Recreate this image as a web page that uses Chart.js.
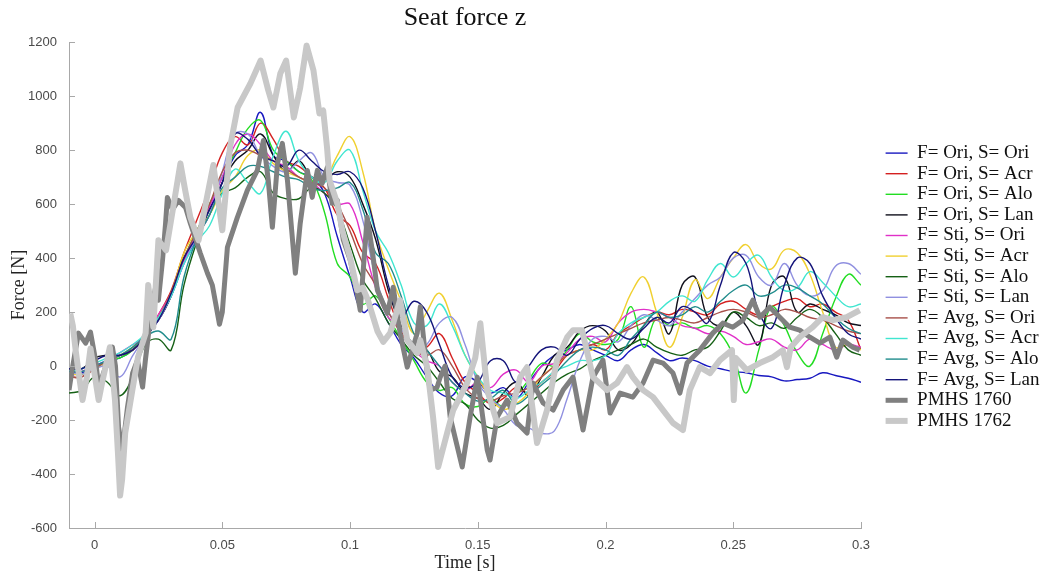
<!DOCTYPE html>
<html>
<head>
<meta charset="utf-8">
<script src="https://cdn.jsdelivr.net/npm/chart.js@4.4.1/dist/chart.umd.min.js"></script>
<style>
  html, body { margin: 0; padding: 0; background: #fff; }
  #wrap { width: 1043px; height: 574px; }
</style>
</head>
<body>
<div id="wrap"><canvas id="chart-seat" width="1043" height="574"></canvas></div>
<script>
// time grid [s] shared by the 12 simulated curves
const timeGrid = [-0.01, -0.005, 0, 0.005, 0.01, 0.015, 0.02, 0.025, 0.03, 0.035,
  0.04, 0.045, 0.05, 0.055, 0.06, 0.065, 0.07, 0.075, 0.08, 0.085,
  0.09, 0.095, 0.1, 0.105, 0.11, 0.115, 0.12, 0.125, 0.13, 0.135,
  0.14, 0.145, 0.15, 0.155, 0.16, 0.165, 0.17, 0.175, 0.18, 0.185,
  0.19, 0.195, 0.2, 0.205, 0.21, 0.215, 0.22, 0.225, 0.23, 0.235,
  0.24, 0.245, 0.25, 0.255, 0.26, 0.265, 0.27, 0.275, 0.28, 0.285,
  0.29, 0.295, 0.3]

// seat force z [N]
const oriOri = [-20, -25, 0, 20, 30, 60, 110, 170, 260, 380,
  470, 580, 680, 780, 820, 940, 780, 760, 720, 700,
  640, 480, 330, 200, 230, 160, 80, 30, -40, -100,
  -110, -40, -60, -100, -80, -120, -60, 0, 40, 60,
  80, 60, 40, 20, 60, 80, 50, 20, 30, 20,
  0, -10, -20, -25, -35, -40, -55, -50, -45, -25,
  -35, -45, -60]
const oriAcr = [-40, -40, -10, 20, 40, 60, 110, 190, 280, 420,
  540, 660, 790, 850, 820, 900, 840, 760, 740, 700,
  660, 560, 520, 420, 380, 250, 130, 60, 70, 120,
  30, -60, -100, -140, -120, -80, -100, -60, -20, 40,
  60, 80, 60, 120, 150, 180, 200, 190, 210, 200,
  190, 230, 240, 210, 190, 220, 240, 250, 220, 230,
  200, 170, 60]
const oriAlo = [-30, -30, -10, 20, 30, 60, 120, 180, 270, 400,
  500, 600, 700, 790, 880, 910, 800, 760, 720, 690,
  570, 380, 330, 230, 260, 180, 100, 20, -60, -90,
  -80, -140, -150, -120, -150, -110, -50, 10, 0, 60,
  120, 90, 80, 100, 220, 70, 180, 150, 160, 140,
  150, 120, 40, -100, 60, 220, 150, 50, 0, 120,
  250, 340, 300]
const oriLan = [-10, -10, 30, 40, 40, 70, 120, 170, 260, 400,
  480, 560, 680, 760, 800, 860, 780, 720, 760, 700,
  690, 720, 700, 600, 470, 280, 150, 80, 60, -20,
  -40, -100, -120, -160, -100, -60, -110, -40, 40, 70,
  130, 150, 130, 60, 80, 150, 200, 120, 300, 330,
  180, 150, 200, 150, 80, 300, 330, 200, 230, 210,
  190, 160, 150]
const stiOri = [-40, -20, 0, 20, 50, 80, 110, 190, 270, 390,
  490, 590, 700, 820, 860, 820, 760, 740, 700, 680,
  640, 600, 600, 460, 290, 180, 140, 60, 20, 0,
  -60, -90, -60, -80, -30, -15, -60, 0, 10, 50,
  100, 110, 90, 160, 200, 210, 200, 180, 150, 140,
  120, 130, 110, 80, 90, 100, 70, 60, 100, 80,
  60, 80, 70]
const stiAcr = [-30, -30, -10, 10, 40, 70, 110, 180, 270, 420,
  500, 560, 650, 700, 780, 800, 750, 720, 700, 680,
  690, 780, 850, 720, 500, 360, 240, 120, 200, 270,
  170, 40, -40, -120, -160, -140, -100, -40, 0, 40,
  60, 60, 100, 160, 270, 330, 200, 70, 180, 320,
  250, 330, 400, 450, 380, 360, 430, 420, 340, 200,
  70, 80, 60]
const stiAlo = [-100, -90, -40, -60, -110, -40, 80, 100, 60, 300,
  460, 580, 640, 660, 700, 720, 640, 620, 620, 660,
  640, 580, 450, 320, 250, 160, 100, 40, 0, -60,
  -120, -140, -200, -230, -220, -180, -140, -100, -60, -30,
  -10, 20, 40, 60, 80, 100, 70, 50, 40, 60,
  70, 130, 200, 180, 150, 160, 140, 180, 210, 180,
  120, 60, 40]
const stiLan = [-20, -30, -10, 0, -40, 40, 110, 170, 260, 380,
  480, 560, 720, 860, 860, 780, 740, 720, 760, 790,
  700, 680, 670, 540, 330, 200, 140, 60, 80, 160,
  180, 80, -60, -120, -160, -220, -230, -250, -240, -120,
  20, 100, 110, 90, 150, 190, 170, 150, 200, 250,
  300, 330, 400, 410, 330, 300, 380, 300, 260, 280,
  370, 380, 340]
const avgOri = [-40, -40, -10, 20, 40, 60, 110, 180, 270, 400,
  500, 600, 720, 790, 800, 780, 760, 730, 700, 680,
  660, 600, 500, 380, 300, 200, 120, 60, 40, 60,
  0, -80, -120, -130, -110, -100, -80, -40, 0, 40,
  60, 80, 100, 120, 140, 160, 170, 180, 170, 160,
  180, 200, 210, 200, 180, 190, 210, 200, 180, 170,
  150, 130, 120]
const avgAcr = [-20, -10, 10, 30, 50, 80, 120, 180, 260, 380,
  460, 520, 640, 730, 680, 640, 780, 870, 760, 700,
  680, 760, 800, 650, 500, 420, 300, 160, 150, 230,
  150, 40, -40, -90, -100, -120, -90, -60, -20, 0,
  20, 20, 40, 120, 160, 180, 200, 240, 260, 240,
  320, 380, 330, 380, 410, 330, 280, 290, 350, 310,
  260, 220, 230]
const avgAlo = [-20, -20, 0, 20, 40, 70, 110, 130, 100, 330,
  470, 560, 660, 700, 740, 740, 720, 700, 690, 660,
  650, 660, 680, 580, 420, 380, 260, 120, 60, 0,
  -60, -100, -130, -120, -90, -140, -110, -70, -30, 20,
  60, 70, 60, 40, 100, 150, 200, 180, 190, 220,
  200, 240, 280, 300, 260, 270, 300, 290, 260, 230,
  180, 140, 120]
const avgLan = [-10, -10, 20, 40, 40, 60, 110, 170, 270, 400,
  480, 580, 680, 860, 840, 780, 760, 740, 800, 760,
  720, 710, 720, 660, 500, 300, 180, 240, 200, 80,
  -40, -80, -60, 20, 20, -60, 0, 60, 70, 40,
  100, 140, 150, 120, 100, 140, 180, 160, 220, 200,
  160, 300, 420, 380, 200, 140, 300, 400, 380, 260,
  180, 120, 100]

// PMHS measurements, read at their own time stamps
const t1760 = [-0.01, -0.0086, -0.0063, -0.0035, -0.0016, 0.0004, 0.0016, 0.0043, 0.007, 0.0082,
  0.0094, 0.0109, 0.0129, 0.0149, 0.0168, 0.0188, 0.0199, 0.0219, 0.0239, 0.025,
  0.0266, 0.0278, 0.0285, 0.0305, 0.0328, 0.0356, 0.0375, 0.0414, 0.0442, 0.0461,
  0.0489, 0.05, 0.052, 0.0559, 0.0598, 0.0637, 0.0661, 0.068, 0.0696, 0.0716,
  0.0735, 0.0755, 0.0786, 0.0805, 0.0833, 0.0852, 0.0872, 0.0891, 0.0911, 0.093,
  0.095, 0.0974, 0.1001, 0.1028, 0.104, 0.1067, 0.1087, 0.1107, 0.1146, 0.1169,
  0.1196, 0.1224, 0.1263, 0.1275, 0.1302, 0.1314, 0.1341, 0.1353, 0.1372, 0.1392,
  0.1439, 0.147, 0.1498, 0.1537, 0.1548, 0.1576, 0.1615, 0.1654, 0.1693, 0.1716,
  0.1756, 0.1795, 0.1834, 0.1873, 0.1912, 0.1951, 0.199, 0.2018, 0.2057, 0.2107,
  0.2147, 0.2186, 0.2225, 0.2264, 0.2291, 0.2319, 0.2369, 0.242, 0.2459, 0.2498,
  0.2538, 0.2577, 0.2604, 0.2643, 0.2682, 0.2721, 0.276, 0.28, 0.2839, 0.2878,
  0.2905, 0.2929, 0.2968, 0.2995]
const f1760 = [-89, -4, 122, 85, 126, 22, -78, -4, 70, 0,
  -226, -311, -152, -26, 22, -78, 22, 181, 292, 244,
  392, 529, 625, 580, 614, 588, 529, 418, 344, 300,
  155, 200, 440, 551, 651, 725, 836, 688, 514, 751,
  825, 688, 344, 529, 725, 625, 725, 677, 736, 603,
  614, 466, 392, 270, 207, 551, 429, 281, 196, 292,
  122, -4, 122, 220, -26, -89, -78, -41, 0, -189,
  -374, -189, -41, -311, -348, -189, -126, -211, -248, -63,
  -137, -163, -89, -41, -237, -41, 22, -174, -100, -115,
  -63, 22, 11, -26, -100, 11, 59, 122, 159, 144,
  170, 244, 181, 218, 181, 144, 133, 107, 85, 107,
  33, 96, 70, 59]
const t1762 = [-0.0095, -0.0085, -0.0074, -0.0063, -0.0047, -0.003, -0.0016, -0.0005, 0.0016, 0.003,
  0.0043, 0.006, 0.008, 0.0092, 0.01, 0.0108, 0.012, 0.015, 0.017, 0.02,
  0.021, 0.023, 0.025, 0.028, 0.031, 0.0336, 0.0355, 0.0375, 0.0407, 0.044,
  0.0465, 0.05, 0.053, 0.056, 0.061, 0.065, 0.068, 0.07, 0.0727, 0.075,
  0.078, 0.0805, 0.083, 0.0857, 0.088, 0.0895, 0.091, 0.092, 0.095, 0.097,
  0.1, 0.1028, 0.105, 0.107, 0.1107, 0.113, 0.1157, 0.1196, 0.1224, 0.1263,
  0.1275, 0.1302, 0.1325, 0.1345, 0.138, 0.1404, 0.1458, 0.149, 0.151, 0.1537,
  0.1576, 0.1627, 0.1666, 0.1693, 0.1732, 0.1771, 0.181, 0.185, 0.1873, 0.1908,
  0.1951, 0.2006, 0.2045, 0.2084, 0.2107, 0.2147, 0.2186, 0.2225, 0.2264, 0.2303,
  0.233, 0.2369, 0.2409, 0.2448, 0.2495, 0.2502, 0.251, 0.2553, 0.2604, 0.2655,
  0.2694, 0.271, 0.2725, 0.276, 0.2811, 0.285, 0.289, 0.2944, 0.2995]
const f1762 = [195, 150, 59, -20, -126, -40, 65, 0, -126, -60,
  -4, 70, -126, -330, -480, -420, -248, -78, 33, 122,
  300, 144, 466, 429, 600, 751, 650, 551, 466, 625,
  745, 503, 810, 958, 1047, 1132, 1021, 958, 1084, 1132,
  921, 1032, 1188, 1095, 936, 947, 810, 688, 603, 503,
  403, 281, 290, 244, 130, 90, 122, 244, 96, 48,
  96, -4, -189, -374, -248, -163, -63, 30, 159, -89,
  -211, -189, -41, -4, -285, -163, 22, 107, 133, 133,
  -41, -89, -63, -4, -41, -89, -115, -163, -211, -237,
  -89, -4, -26, 22, 59, -126, 30, -15, 11, 33,
  59, -4, 70, 107, 144, 181, 170, 181, 207]

const xTicks = [0, 0.05, 0.1, 0.15, 0.2, 0.25, 0.3]
const yTicks = [-600, -400, -200, 0, 200, 400, 600, 800, 1000, 1200]

const axisColor = '#a8a8a8'
const tickColor = '#4a4a4a'
const serif = 'Liberation Serif'

function makeLine(label, xs, ys, color, width, order, tension) {
    return {
        label: label,
        data: xs.map((x, i) => ({ x: x, y: ys[i] })),
        borderColor: color,
        backgroundColor: color,
        borderWidth: width,
        borderJoinStyle: 'round',
        pointRadius: 0,
        pointHoverRadius: 0,
        tension: tension,
        fill: false,
        order: order
    }
}

const datasets = [
    makeLine('F= Ori, S= Ori', timeGrid, oriOri, '#1818c0', 1.4, 20, 0.4),
    makeLine('F= Ori, S= Acr', timeGrid, oriAcr, '#d42020', 1.4, 19, 0.4),
    makeLine('F= Ori, S= Alo', timeGrid, oriAlo, '#22dd22', 1.4, 18, 0.4),
    makeLine('F= Ori, S= Lan', timeGrid, oriLan, '#10101c', 1.4, 17, 0.4),
    makeLine('F= Sti, S= Ori', timeGrid, stiOri, '#e030c8', 1.4, 16, 0.4),
    makeLine('F= Sti, S= Acr', timeGrid, stiAcr, '#f0d030', 1.4, 15, 0.4),
    makeLine('F= Sti, S= Alo', timeGrid, stiAlo, '#156015', 1.4, 14, 0.4),
    makeLine('F= Sti, S= Lan', timeGrid, stiLan, '#9090e0', 1.4, 13, 0.4),
    makeLine('F= Avg, S= Ori', timeGrid, avgOri, '#a8504a', 1.4, 12, 0.4),
    makeLine('F= Avg, S= Acr', timeGrid, avgAcr, '#40e6d0', 1.4, 11, 0.4),
    makeLine('F= Avg, S= Alo', timeGrid, avgAlo, '#208c8c', 1.4, 10, 0.4),
    makeLine('F= Avg, S= Lan', timeGrid, avgLan, '#14147a', 1.4, 9, 0.4),
    makeLine('PMHS 1760', t1760, f1760, '#808080', 5, 1, 0),
    makeLine('PMHS 1762', t1762, f1762, '#c8c8c8', 6, 0, 0)
]

/* short tick marks pointing into the plot, like the original */
const innerTicks = {
    id: 'innerTicks',
    afterDatasetsDraw(chart) {
        const { ctx, chartArea: a, scales: { x, y } } = chart
        ctx.save()
        ctx.strokeStyle = axisColor
        ctx.lineWidth = 1
        ctx.beginPath()
        x.ticks.forEach(t => {
            const px = Math.round(x.getPixelForValue(t.value)) + 0.5
            ctx.moveTo(px, a.bottom)
            ctx.lineTo(px, a.bottom - 6)
        })
        y.ticks.forEach(t => {
            const py = Math.round(y.getPixelForValue(t.value)) + 0.5
            ctx.moveTo(a.left, py)
            ctx.lineTo(a.left + 6, py)
        })
        ctx.stroke()
        ctx.restore()
    }
}

/* leave a gap between the plot and the legend samples */
const legendGap = {
    id: 'legendGap',
    afterLayout(chart) {
        chart.legend.left = chart.chartArea.right + 23
    }
}

const chart = new Chart(document.getElementById('chart-seat'), {
    type: 'line',
    data: { datasets: datasets },
    options: {
        responsive: false,
        animation: false,
        layout: { padding: 0 },
        plugins: {
            title: {
                display: true,
                text: 'Seat force z',
                fullSize: false,
                color: '#111',
                font: { family: serif, size: 26, weight: 'normal' },
                padding: { top: 3, bottom: 8 }
            },
            legend: {
                position: 'right',
                align: 'center',
                labels: {
                    usePointStyle: true,
                    pointStyle: 'line',
                    pointStyleWidth: 22,
                    padding: 1.6,
                    color: '#111',
                    font: { family: serif, size: 19 },
                    sort: (a, b) => a.datasetIndex - b.datasetIndex
                }
            },
            tooltip: { enabled: false }
        },
        scales: {
            x: {
                type: 'linear',
                min: -0.01,
                max: 0.3,
                afterBuildTicks: s => { s.ticks = xTicks.map(v => ({ value: v })) },
                afterFit: s => { s.height = 46 },
                grid: { display: false, drawTicks: false },
                border: { display: true, color: axisColor, width: 1 },
                ticks: {
                    color: tickColor,
                    font: { family: 'Liberation Sans', size: 13 },
                    padding: 10,
                    maxRotation: 0,
                    autoSkip: false,
                    callback: v => String(v)
                },
                title: {
                    display: true,
                    text: 'Time [s]',
                    color: '#222',
                    font: { family: serif, size: 18 },
                    padding: { top: 0, bottom: 0 }
                }
            },
            y: {
                min: -600,
                max: 1200,
                afterBuildTicks: s => { s.ticks = yTicks.map(v => ({ value: v })) },
                afterFit: s => { s.width = 69 },
                grid: { display: false, drawTicks: false },
                border: { display: true, color: axisColor, width: 1 },
                ticks: {
                    color: tickColor,
                    font: { family: 'Liberation Sans', size: 13 },
                    padding: 12,
                    autoSkip: false,
                    callback: v => String(v)
                },
                title: {
                    display: true,
                    text: 'Force [N]',
                    color: '#222',
                    font: { family: serif, size: 18 },
                    padding: { top: 8, bottom: 0 }
                }
            }
        }
    },
    plugins: [innerTicks, legendGap]
})

/* keep the plot's right edge where the original has it */
const baseFit = chart.legend.fit
chart.legend.fit = function () {
    baseFit.call(this)
    this.width = 182
}
chart.update()
</script>
</body>
</html>
